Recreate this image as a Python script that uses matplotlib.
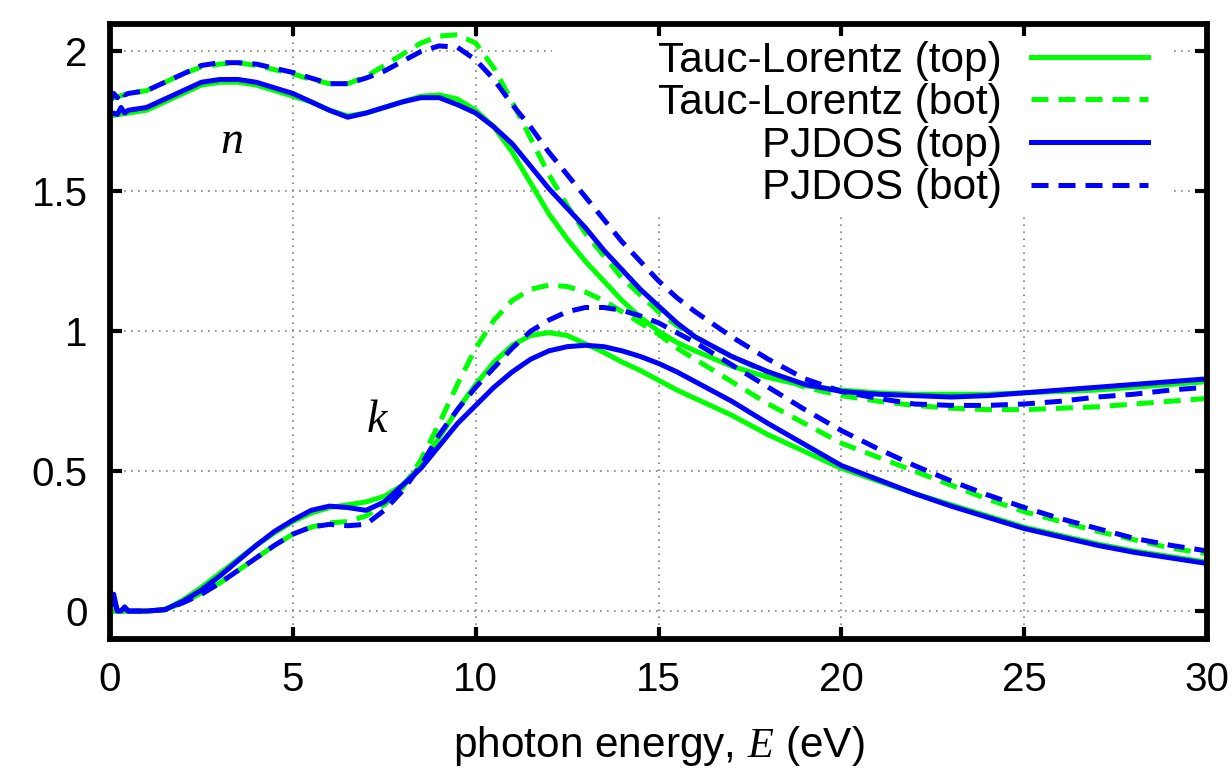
#!/usr/bin/env python3
# -*- coding: utf-8 -*-
"""
n and k spectra: Tauc-Lorentz vs PJDOS fits, top and bottom layer
"""
import numpy as np
import matplotlib
matplotlib.use('Agg')
import matplotlib.pyplot as plt
from matplotlib.patches import Rectangle

plt.rcParams['font.family'] = ['Liberation Sans', 'DejaVu Sans']
plt.rcParams['font.size'] = 29
plt.rcParams['mathtext.fontset'] = 'custom'
plt.rcParams['mathtext.it'] = 'Liberation Serif:italic'
plt.rcParams['mathtext.rm'] = 'Liberation Sans'

# photon energy grid (eV), Tauc-Lorentz fits
energy = [0, 0.5, 1, 1.5, 2, 2.5, 3, 3.5, 4, 4.5, 5, 5.5, 6, 6.5, 7, 7.5, 8, 8.5,
          9, 9.5, 10, 10.5, 11, 11.5, 12, 12.5, 13, 13.5, 14, 14.5, 15, 15.5, 16,
          17, 18, 19, 20, 21, 22, 23, 24, 25, 26, 27, 28, 29, 30]
# PJDOS fits have a few extra points at the low end (numerical glitch near 0)
energy_pj = [0, 0.1, 0.2, 0.3, 0.4] + energy[1:]

# refractive index n
n_tl_top = [1.77, 1.78, 1.79, 1.82, 1.85, 1.88, 1.89, 1.89, 1.88, 1.86, 1.84, 1.82,
            1.79, 1.77, 1.78, 1.80, 1.82, 1.84, 1.845, 1.83, 1.79, 1.73, 1.64, 1.53,
            1.42, 1.33, 1.25, 1.18, 1.11, 1.05, 1.00, 0.96, 0.93, 0.875, 0.835, 0.805,
            0.79, 0.78, 0.775, 0.775, 0.775, 0.78, 0.785, 0.79, 0.80, 0.81, 0.82]
n_tl_bot = [1.83, 1.85, 1.86, 1.89, 1.92, 1.945, 1.955, 1.96, 1.95, 1.935, 1.92, 1.90,
            1.885, 1.885, 1.91, 1.95, 1.99, 2.03, 2.055, 2.06, 2.03, 1.94, 1.82, 1.69,
            1.56, 1.45, 1.35, 1.27, 1.19, 1.13, 1.07, 1.02, 0.98, 0.91, 0.85, 0.80,
            0.77, 0.75, 0.735, 0.725, 0.72, 0.72, 0.725, 0.73, 0.74, 0.75, 0.76]
n_pj_top = [1.77, 1.78, 1.775, 1.80, 1.78,
            1.79, 1.80, 1.83, 1.86, 1.89, 1.90, 1.90, 1.89, 1.87, 1.85, 1.82,
            1.79, 1.765, 1.78, 1.80, 1.82, 1.835, 1.835, 1.81, 1.78, 1.73, 1.67, 1.59,
            1.51, 1.44, 1.37, 1.29, 1.22, 1.15, 1.09, 1.03, 0.98, 0.91, 0.855, 0.81,
            0.785, 0.775, 0.77, 0.765, 0.77, 0.78, 0.79, 0.80, 0.81, 0.82, 0.83]
n_pj_bot = [1.82, 1.85, 1.835, 1.86, 1.845,
            1.85, 1.86, 1.89, 1.92, 1.95, 1.96, 1.96, 1.955, 1.94, 1.925, 1.905,
            1.885, 1.885, 1.905, 1.93, 1.965, 2.00, 2.02, 2.015, 1.97, 1.90, 1.81, 1.73,
            1.64, 1.56, 1.48, 1.40, 1.32, 1.25, 1.18, 1.12, 1.07, 0.98, 0.90, 0.83,
            0.785, 0.76, 0.74, 0.735, 0.735, 0.74, 0.75, 0.765, 0.775, 0.79, 0.80]

# extinction coefficient k
k_tl_top = [0, 0, 0, 0.005, 0.04, 0.085, 0.135, 0.185, 0.235, 0.28, 0.32, 0.35,
            0.37, 0.38, 0.39, 0.41, 0.45, 0.52, 0.62, 0.72, 0.81, 0.89, 0.95, 0.985,
            0.995, 0.985, 0.955, 0.925, 0.89, 0.86, 0.825, 0.79, 0.76, 0.70, 0.63, 0.57,
            0.51, 0.465, 0.42, 0.38, 0.34, 0.30, 0.27, 0.24, 0.215, 0.195, 0.175]
k_tl_bot = [0, 0, 0, 0.005, 0.03, 0.065, 0.10, 0.145, 0.19, 0.235, 0.275, 0.30,
            0.315, 0.32, 0.34, 0.38, 0.44, 0.54, 0.67, 0.81, 0.94, 1.04, 1.11, 1.15,
            1.165, 1.16, 1.14, 1.11, 1.07, 1.03, 0.99, 0.94, 0.90, 0.82, 0.74, 0.67,
            0.60, 0.55, 0.50, 0.45, 0.40, 0.355, 0.32, 0.285, 0.255, 0.225, 0.205]
k_pj_top = [0.03, 0.06, 0.0, 0.0, 0.015,
            0, 0, 0.005, 0.035, 0.075, 0.125, 0.18, 0.235, 0.285, 0.325, 0.36,
            0.375, 0.37, 0.36, 0.39, 0.45, 0.51, 0.59, 0.67, 0.735, 0.80, 0.855, 0.90,
            0.93, 0.945, 0.95, 0.945, 0.93, 0.91, 0.885, 0.855, 0.82, 0.75, 0.67, 0.595,
            0.52, 0.47, 0.42, 0.375, 0.335, 0.295, 0.265, 0.235, 0.21, 0.19, 0.17]
k_pj_bot = [0.02, 0.04, 0.0, 0.0, 0.01,
            0, 0, 0.005, 0.03, 0.06, 0.10, 0.145, 0.19, 0.235, 0.275, 0.30,
            0.31, 0.305, 0.31, 0.36, 0.43, 0.52, 0.63, 0.72, 0.80, 0.87, 0.94, 1.00,
            1.04, 1.07, 1.085, 1.085, 1.075, 1.055, 1.03, 0.995, 0.96, 0.88, 0.80, 0.72,
            0.645, 0.58, 0.52, 0.465, 0.415, 0.37, 0.33, 0.295, 0.26, 0.235, 0.215]

series_labels = ['Tauc-Lorentz (top)', 'Tauc-Lorentz (bot)', 'PJDOS (top)', 'PJDOS (bot)']
x_ticks = [0, 5, 10, 15, 20, 25, 30]
y_ticks = [0, 0.5, 1, 1.5, 2]
y_tick_labels = ['0', '0.5', '1', '1.5', '2']


def plot_nk():
    '''
    DESCRIPTION: n and k of both layers, both dispersion models
    OUTPUT: out.png
    '''
    fig = plt.figure(figsize=(12.32, 7.76), dpi=100)
    ax = fig.add_axes([0.0893, 0.1765, 0.8905, 0.7932])

    green = '#00ff00'
    blue = '#0000ff'
    dash = (0, (3.4, 2.0))
    styles = [(green, '-'), (green, dash), (blue, '-'), (blue, dash)]
    grids = [energy, energy, energy_pj, energy_pj]
    n_sets = [n_tl_top, n_tl_bot, n_pj_top, n_pj_bot]
    k_sets = [k_tl_top, k_tl_bot, k_pj_top, k_pj_bot]

    handles = []
    for (col, ls), e_vals, n_vals, k_vals, lab in zip(styles, grids, n_sets, k_sets, series_labels):
        h, = ax.plot(e_vals, n_vals, color=col, ls=ls, lw=3.6, zorder=2, label=lab)
        ax.plot(e_vals, k_vals, color=col, ls=ls, lw=3.6, zorder=2)
        handles.append(h)

    # dotted grid, kept under the key box
    for xv in x_ticks:
        ax.axvline(xv, color='#808080', lw=1.2, ls=(0, (1, 3.2)), zorder=0.5)
    for yv in y_ticks:
        ax.axhline(yv, color='#808080', lw=1.2, ls=(0, (1, 3.2)), zorder=0.5)
    ax.add_patch(Rectangle((0.403, 0.694), 0.565, 0.306, transform=ax.transAxes,
                           facecolor='white', edgecolor='none', zorder=1))

    ax.set_xlim(0, 30)
    ax.set_ylim(-0.1, 2.1)
    ax.set_xticks(x_ticks)
    ax.set_yticks(y_ticks)
    ax.set_yticklabels(y_tick_labels)
    ax.tick_params(direction='in', top=True, right=True, length=8.5, width=3, pad=16)
    for sp in ax.spines.values():
        sp.set_linewidth(4.2)

    ax.set_xlabel('photon energy, $E$ (eV)', fontsize=30.5, labelpad=18)

    ax.text(3.33, 1.636, 'n', family='Liberation Serif', style='italic',
            fontsize=33, ha='center', va='baseline')
    ax.text(7.3, 0.64, 'k', family='Liberation Serif', style='italic',
            fontsize=33, ha='center', va='baseline')

    ax.legend(handles=handles, loc='upper right', bbox_to_anchor=(0.946, 0.972),
              frameon=False, markerfirst=False, fontsize=30.5, handlelength=2.75,
              handletextpad=0.7, labelspacing=0.06, borderpad=0, borderaxespad=0)

    fig.savefig('out.png', dpi=100)
##END plot_nk


def main():
    plot_nk()
##END main


if __name__ == '__main__':
    main()
